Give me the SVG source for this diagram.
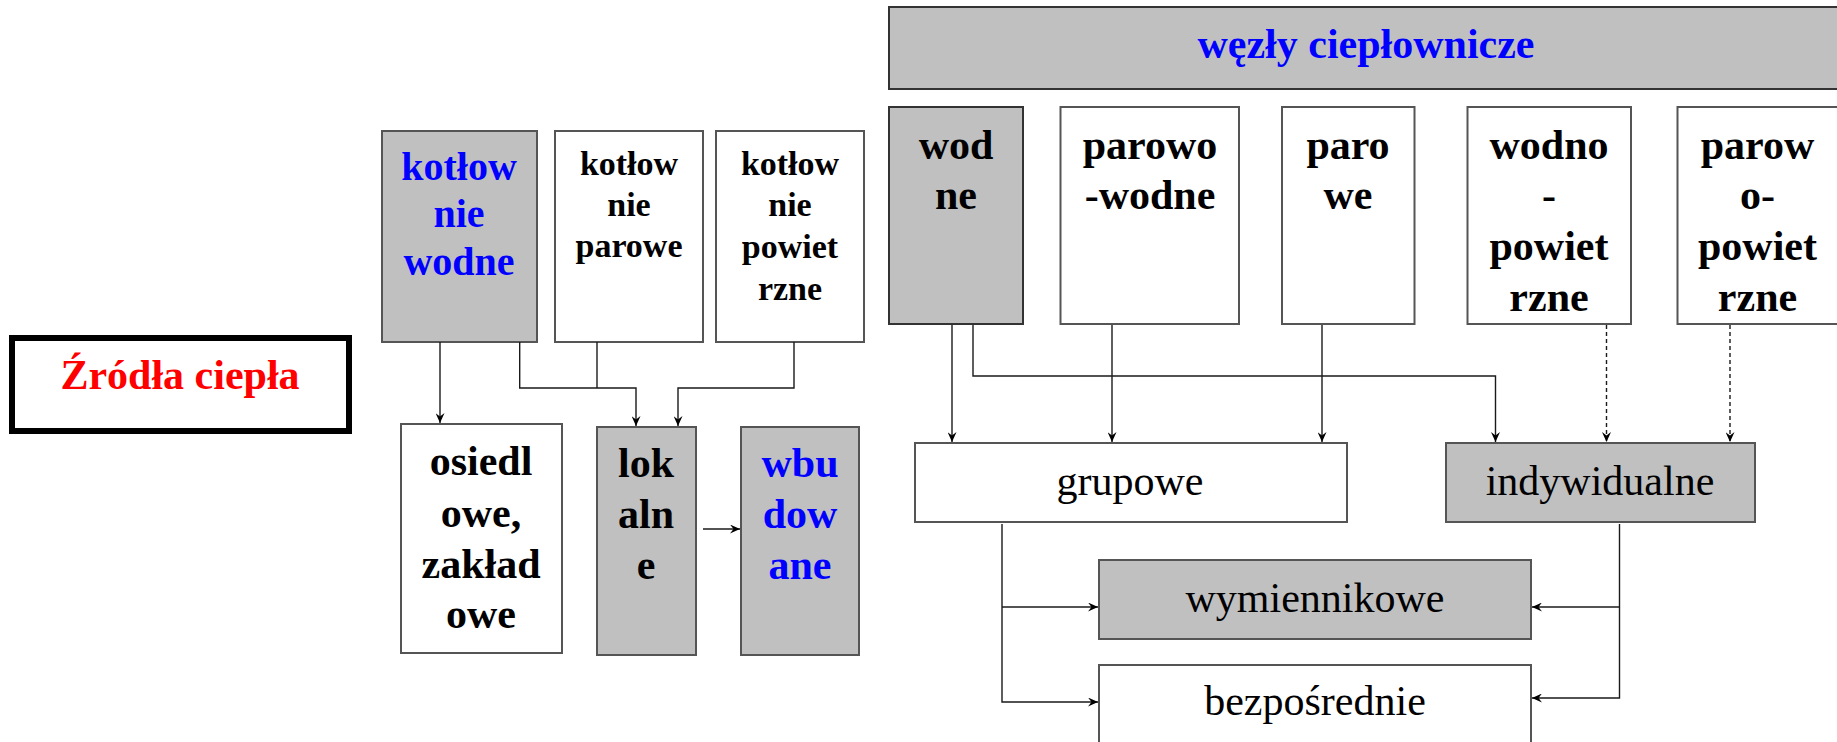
<svg xmlns="http://www.w3.org/2000/svg" width="1837" height="742" viewBox="0 0 1837 742">
  <style>
    .box { stroke: #555; stroke-width: 2; }
    .grey { fill: #c0c0c0; }
    .white { fill: #ffffff; }
    .t { font-family: "Liberation Serif", "Times New Roman", serif; text-anchor: middle; }
    .b { font-weight: bold; }
    .blue { fill: #0000ff; }
    .blk { fill: #000000; }
    .red { fill: #ff0000; }
    .s42 { font-size: 42px; }
    .s40 { font-size: 40px; }
    .s34 { font-size: 34px; }
    .conn { fill: none; stroke: #1a1a1a; stroke-width: 1.4; marker-end: url(#arr); }
    .join { fill: none; stroke: #1a1a1a; stroke-width: 1.4; }
    .dash { stroke-dasharray: 4 3; }
  </style>
  <defs>
    <marker id="arr" viewBox="0 0 10 9" markerUnits="userSpaceOnUse" markerWidth="10" markerHeight="9" refX="10" refY="4.5" orient="auto">
      <path d="M0,0 L10,4.5 L0,9 L3.5,4.5 z" fill="#000"/>
    </marker>
  </defs>

  <rect width="1837" height="742" fill="#ffffff"/>

  <!-- title box -->
  <g id="zrodla">
    <rect x="12" y="338" width="337" height="93" fill="#fff" stroke="#000" stroke-width="6"/>
    <text class="t b red s42" x="180" y="389">Źródła ciepła</text>
  </g>

  <!-- boiler houses -->
  <g id="kotlownie-wodne">
    <rect class="box grey" x="382" y="131" width="155" height="211"/>
    <text class="t b blue s40" x="459" y="180">kotłow</text>
    <text class="t b blue s40" x="459" y="227">nie</text>
    <text class="t b blue s40" x="459" y="275">wodne</text>
  </g>
  <g id="kotlownie-parowe">
    <rect class="box white" x="555" y="131" width="148" height="211"/>
    <text class="t b blk s34" x="629" y="175">kotłow</text>
    <text class="t b blk s34" x="629" y="216">nie</text>
    <text class="t b blk s34" x="629" y="257">parowe</text>
  </g>
  <g id="kotlownie-powietrzne">
    <rect class="box white" x="716" y="131" width="148" height="211"/>
    <text class="t b blk s34" x="790" y="175">kotłow</text>
    <text class="t b blk s34" x="790" y="216">nie</text>
    <text class="t b blk s34" x="790" y="258">powiet</text>
    <text class="t b blk s34" x="790" y="300">rzne</text>
  </g>
  <g id="osiedlowe">
    <rect class="box white" x="401" y="424" width="161" height="229"/>
    <text class="t b blk s42" x="481" y="475">osiedl</text>
    <text class="t b blk s42" x="481" y="527">owe,</text>
    <text class="t b blk s42" x="481" y="578">zakład</text>
    <text class="t b blk s42" x="481" y="628">owe</text>
  </g>
  <g id="lokalne">
    <rect class="box grey" x="597" y="427" width="99" height="228"/>
    <text class="t b blk s42" x="646" y="477">lok</text>
    <text class="t b blk s42" x="646" y="528">aln</text>
    <text class="t b blk s42" x="646" y="579">e</text>
  </g>
  <g id="wbudowane">
    <rect class="box grey" x="741" y="427" width="118" height="228"/>
    <text class="t b blue s42" x="800" y="477">wbu</text>
    <text class="t b blue s42" x="800" y="528">dow</text>
    <text class="t b blue s42" x="800" y="579">ane</text>
  </g>

  <!-- substations -->
  <g id="wezly">
    <rect class="grey" x="889" y="7" width="960" height="82" stroke="#333" stroke-width="2"/>
    <text class="t b blue s42" x="1366" y="58">węzły ciepłownicze</text>
  </g>
  <g id="wodne">
    <rect class="grey" x="889" y="107" width="134" height="217" stroke="#333" stroke-width="2"/>
    <text class="t b blk s42" x="956" y="159">wod</text>
    <text class="t b blk s42" x="956" y="209">ne</text>
  </g>
  <g id="parowo-wodne">
    <rect class="box white" x="1060.5" y="107" width="178.5" height="217"/>
    <text class="t b blk s42" x="1150" y="159">parowo</text>
    <text class="t b blk s42" x="1150" y="209">-wodne</text>
  </g>
  <g id="parowe">
    <rect class="box white" x="1282" y="107" width="132.5" height="217"/>
    <text class="t b blk s42" x="1348" y="159">paro</text>
    <text class="t b blk s42" x="1348" y="209">we</text>
  </g>
  <g id="wodno-powietrzne">
    <rect class="box white" x="1467.5" y="107" width="163.5" height="217"/>
    <text class="t b blk s42" x="1549" y="159">wodno</text>
    <text class="t b blk s42" x="1549" y="209">-</text>
    <text class="t b blk s42" x="1549" y="260">powiet</text>
    <text class="t b blk s42" x="1549" y="311">rzne</text>
  </g>
  <g id="parowo-powietrzne">
    <rect class="box white" x="1677.5" y="107" width="170" height="217"/>
    <text class="t b blk s42" x="1757.5" y="159">parow</text>
    <text class="t b blk s42" x="1757.5" y="209">o-</text>
    <text class="t b blk s42" x="1757.5" y="260">powiet</text>
    <text class="t b blk s42" x="1757.5" y="311">rzne</text>
  </g>
  <g id="grupowe">
    <rect class="box white" x="915" y="443" width="432" height="79"/>
    <text class="t s42 blk" x="1130" y="495">grupowe</text>
  </g>
  <g id="indywidualne">
    <rect class="box grey" x="1446" y="443" width="309" height="79"/>
    <text class="t s42 blk" x="1600" y="495">indywidualne</text>
  </g>
  <g id="wymiennikowe">
    <rect class="box grey" x="1099" y="560" width="432" height="79"/>
    <text class="t s42 blk" x="1315" y="612">wymiennikowe</text>
  </g>
  <g id="bezposrednie">
    <rect class="box white" x="1099" y="665" width="432" height="100"/>
    <text class="t s42 blk" x="1315" y="715">bezpośrednie</text>
  </g>

  <!-- connectors -->
  <g id="connectors">
    <path class="conn" d="M440,342 V423"/>
    <path class="conn" d="M519.7,342 V388 H636 V426"/>
    <path class="join" d="M597,342 V388"/>
    <path class="conn" d="M794,342 V388 H678 V426"/>
    <path class="conn" d="M703,529 H740"/>

    <path class="conn" d="M952,325 V442"/>
    <path class="conn" d="M973,325 V376 H1495.5 V442"/>
    <path class="conn" d="M1112,325 V442"/>
    <path class="conn" d="M1322,325 V442"/>
    <path class="conn dash" d="M1606.5,325 V442"/>
    <path class="conn dash" d="M1730,325 V442"/>

    <path class="conn" d="M1002,524 V702 H1098"/>
    <path class="conn" d="M1002,607 H1098"/>
    <path class="conn" d="M1619.5,524 V698 H1532"/>
    <path class="conn" d="M1619.5,607 H1532"/>
  </g>
</svg>
